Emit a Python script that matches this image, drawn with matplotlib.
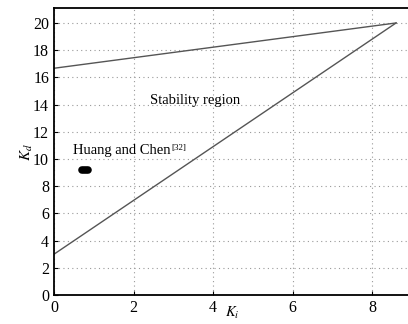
import numpy as np
import matplotlib.pyplot as plt

plt.rcParams['font.family'] = ['Liberation Serif', 'DejaVu Serif']
plt.rcParams['mathtext.fontset'] = 'stix'

# boundary lines of the stability region
upper_ki = [0, 8.6]
upper_kd = [16.67, 20]
lower_ki = [0, 8.6]
lower_kd = [3, 20]

# Huang and Chen result
hc_ki = [0.7, 0.86]
hc_kd = [9.2, 9.2]

xticks = [0, 2, 4, 6, 8]
yticks = [0, 2, 4, 6, 8, 10, 12, 14, 16, 18, 20]

fig = plt.figure(figsize=(4.08, 3.24), dpi=100)
ax = fig.add_axes([54/408, 29/324, 354/408, 287/324])

ax.plot(upper_ki, upper_kd, color='#555555', linewidth=1.0)
ax.plot(lower_ki, lower_kd, color='#555555', linewidth=1.0)
ax.plot(hc_ki, hc_kd, color='black', linewidth=5.5, solid_capstyle='round')

ax.text(2.42, 14.3, 'Stability region', fontsize=10.5, va='center')
t = ax.text(0.48, 10.4, 'Huang and Chen', fontsize=10.5)
ax.annotate('[32]', xy=(1, 1), xycoords=t, xytext=(0.5, 0), textcoords='offset points',
            fontsize=6.5, va='top', ha='left')

ax.set_xlim(0, 8.9)
ax.set_ylim(0, 21.1)
ax.set_xticks(xticks)
ax.set_yticks(yticks)
ax.tick_params(direction='in', length=3, labelsize=11.5, width=0.8)
ax.grid(True, linestyle=(0, (1, 3)), color='#999999', linewidth=0.8)
ax.spines['right'].set_visible(False)
for s in ['left', 'bottom', 'top']:
    ax.spines[s].set_linewidth(1.3)

fig.text(232/408, 1 - 313/324, r'$K_i$', fontsize=10.5, ha='center', va='center')
fig.text(27/408, 1 - 152/324, r'$K_d$', fontsize=11, ha='center', va='center', rotation=90)

fig.savefig('out.png', dpi=100)
